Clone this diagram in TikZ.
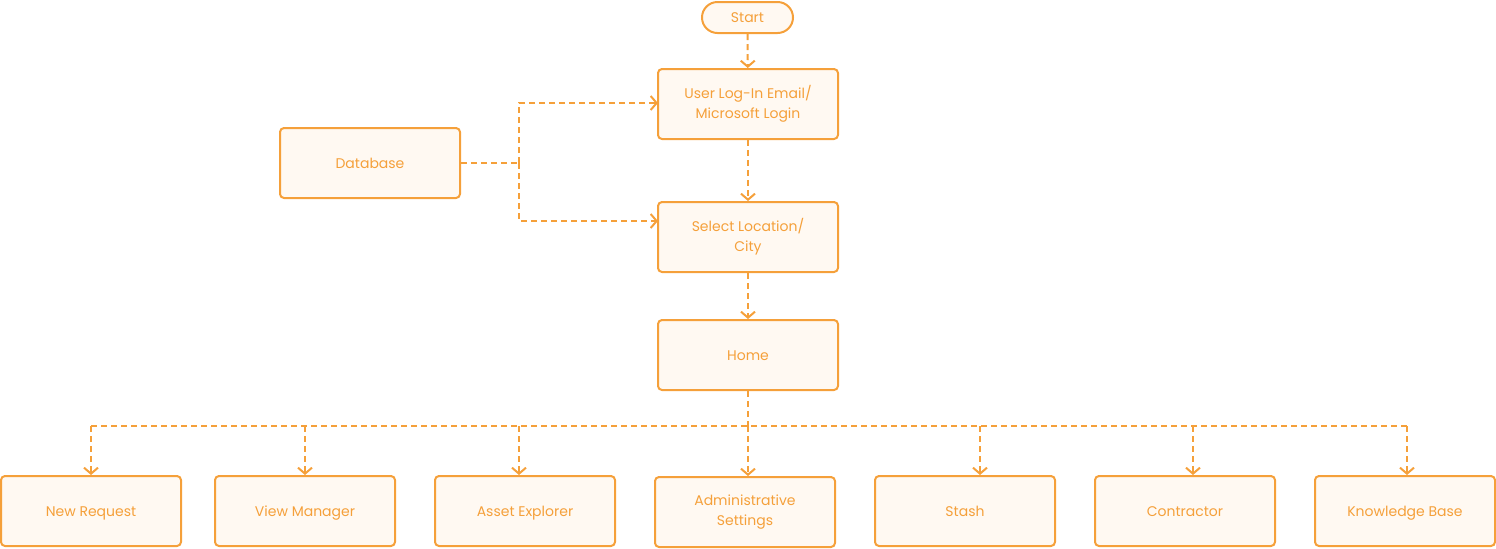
\documentclass[tikz,border=0pt]{standalone}
\usepackage{fontspec}
\setmainfont{Poppins}
\usetikzlibrary{arrows.meta}
\definecolor{floworange}{HTML}{F5A03A}
\definecolor{flowfill}{HTML}{FFF9F2}
\begin{document}
\begin{tikzpicture}[x=0.5pt, y=-0.5pt,
        box/.style={draw=floworange, fill=flowfill, line width=1pt, rounded corners=2pt,
            minimum width=90pt, minimum height=35pt, align=center, text=floworange,
            font=\fontsize{7}{10}\selectfont, inner sep=2pt},
        onebox/.style={box, text height=6pt, text depth=1pt},
        startbox/.style={onebox, rounded corners=7.75pt, minimum width=45.5pt, minimum height=15.5pt},
        flow/.style={draw=floworange, line width=1pt, dash pattern=on 3pt off 2pt,
            -{Straight Barb[length=3pt, width=7pt, line width=1pt]}},
        link/.style={draw=floworange, line width=1pt, dash pattern=on 3pt off 2pt}]
        \useasboundingbox (0,0) rectangle (1496,548);
        % Oberer Teil
        \node[startbox] (start) at (747.5,17.5) {Start};
        \node[box] (login) at (748,104) {User Log-In Email/\\Microsoft Login};
        \node[onebox] (db) at (370,163) {Database};
        \node[box] (city) at (748,237) {Select Location/\\City};
        \node[onebox] (home) at (748,355) {Home};
        
        % Untere Reihe
        \node[onebox] (newreq) at (91,511) {New Request};
        \node[onebox] (viewmgr) at (305,511) {View Manager};
        \node[onebox] (asset) at (525,511) {Asset Explorer};
        \node[box] (admin) at (745,512) {Administrative\\Settings};
        \node[onebox] (stash) at (965,511) {Stash};
        \node[onebox] (contr) at (1185,511) {Contractor};
        \node[onebox] (kb) at (1405,511) {Knowledge Base};
        
        % Hilfspunkte
        \coordinate (split) at (519,163);
        \coordinate (toLogin) at (658,103);
        \coordinate (toCity) at (658,221);
        \coordinate (bus) at (748,426);
        \coordinate (b1) at (91,426);
        \coordinate (b2) at (305,426);
        \coordinate (b3) at (519,426);
        \coordinate (b5) at (980,426);
        \coordinate (b6) at (1193,426);
        \coordinate (b7) at (1407,426);
        
        % Verbindungen
        \draw[flow] (start) -- (login);
        \draw[flow] (login) -- (city);
        \draw[flow] (city) -- (home);
        \draw[link] (db.east) -- (split);
        \draw[flow] (split) |- (toLogin);
        \draw[flow] (split) |- (toCity);
        \draw[link] (home) -- (bus);
        \draw[link] (b1) -- (b7);
        \draw[flow] (b1) -- (b1 |- newreq.north);
        \draw[flow] (b2) -- (b2 |- viewmgr.north);
        \draw[flow] (b3) -- (b3 |- asset.north);
        \draw[flow] (bus) -- (bus |- admin.north);
        \draw[flow] (b5) -- (b5 |- stash.north);
        \draw[flow] (b6) -- (b6 |- contr.north);
        \draw[flow] (b7) -- (b7 |- kb.north);
        
    \end{tikzpicture}
\end{document}
